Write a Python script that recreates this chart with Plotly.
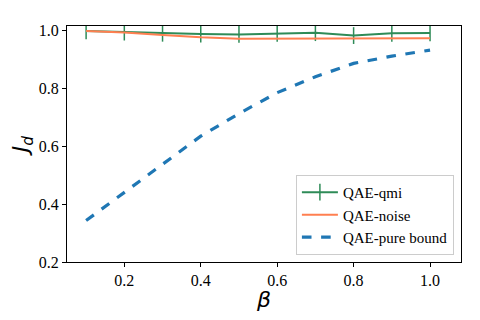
import plotly.graph_objects as go

beta = [0.1, 0.2, 0.3, 0.4, 0.5, 0.6, 0.7, 0.8, 0.9, 1.0]
qae_qmi = [0.997, 0.993, 0.989, 0.986, 0.985, 0.989, 0.991, 0.981, 0.989, 0.990]
qae_noise = [0.997, 0.992, 0.983, 0.975, 0.970, 0.970, 0.970, 0.970, 0.970, 0.972]
qae_pure_bound = [0.343, 0.44, 0.536, 0.634, 0.712, 0.784, 0.839, 0.885, 0.910, 0.931]
ticks = [0.2, 0.4, 0.6, 0.8, 1.0]
tick_labels = ["0.2", "0.4", "0.6", "0.8", "1.0"]

serif = "Times New Roman, Liberation Serif, serif"

fig = go.Figure()
fig.add_trace(go.Scatter(x=beta, y=qae_qmi, name="QAE-qmi", mode="lines+markers",
                         line=dict(color="#2e8b57", width=2),
                         marker=dict(symbol="line-ns", size=12,
                                     line=dict(color="#2e8b57", width=1.5))))
fig.add_trace(go.Scatter(x=beta, y=qae_noise, name="QAE-noise", mode="lines",
                         line=dict(color="#ff7f50", width=2)))
fig.add_trace(go.Scatter(x=beta, y=qae_pure_bound, name="QAE-pure bound", mode="lines",
                         line=dict(color="#1f77b4", width=3.2, dash="dash")))

# page body keeps an 8px margin, so the figure is 464x304 and offsets shrink by 8
fig.update_layout(
    width=464, height=304,
    font=dict(family=serif, color="black", size=16),
    margin=dict(l=59, r=11, t=18, b=50),
    plot_bgcolor="white", paper_bgcolor="white",
    legend=dict(x=0.982, y=0.03, xanchor="right", yanchor="bottom",
                bgcolor="rgba(255,255,255,0.8)", bordercolor="#cccccc", borderwidth=1,
                font=dict(family=serif, size=15, color="black"), tracegroupgap=0,
                itemwidth=36),
    showlegend=True,
)
fig.update_xaxes(range=[0.05, 1.081], tickvals=ticks, ticktext=tick_labels,
                 title_text="<i>β</i>", title_standoff=2,
                 title_font=dict(family="DejaVu Sans", size=22, color="black"))
fig.update_yaxes(range=[0.2, 1.014], tickvals=ticks, ticktext=tick_labels,
                 title_text="<i>J</i><sub><i>d</i></sub>", title_standoff=6,
                 title_font=dict(family="DejaVu Sans", size=22, color="black"))
fig.update_xaxes(showline=True, linecolor="black", linewidth=1, mirror=True,
                 ticks="outside", ticklen=4, tickcolor="black", showgrid=False,
                 zeroline=False, automargin=False,
                 tickfont=dict(family=serif, size=16, color="black"))
fig.update_yaxes(showline=True, linecolor="black", linewidth=1, mirror=True,
                 ticks="outside", ticklen=4, tickcolor="black", showgrid=False,
                 zeroline=False, automargin=False,
                 tickfont=dict(family=serif, size=16, color="black"))

fig.write_html("out.html")
